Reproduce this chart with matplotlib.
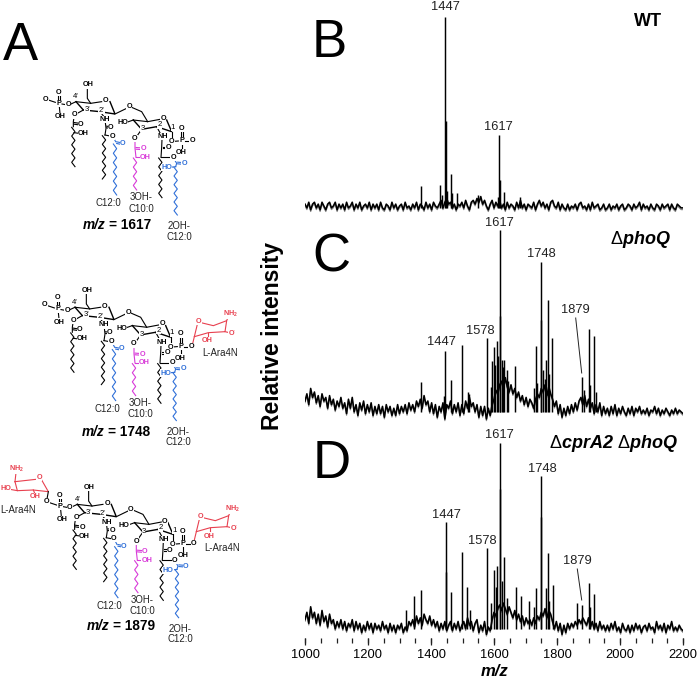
# -*- coding: utf-8 -*-
# MALDI spektri (B, C, D) i strukture lipida A (panel A)
import numpy as np
import matplotlib
matplotlib.use('Agg')
import matplotlib.pyplot as plt

plt.rcParams['font.family'] = ['Liberation Sans', 'DejaVu Sans']
plt.rcParams['mathtext.fontset'] = 'custom'
plt.rcParams['mathtext.rm'] = 'Liberation Sans'
plt.rcParams['mathtext.bf'] = 'Liberation Sans:bold'
plt.rcParams['mathtext.bfit'] = 'Liberation Sans:italic:bold'
plt.rcParams['mathtext.it'] = 'Liberation Sans:italic'
plt.rcParams['mathtext.default'] = 'regular'

# vrhovi spektara, m/z i relativni intenzitet [%]
peaks_b_mz = [1367, 1429, 1436, 1446, 1448, 1452, 1462, 1466, 1484, 1548, 1612, 1617, 1618, 1632, 1683]
peaks_b_int = [10.5, 11, 6, 100, 45, 8, 17, 7, 7, 6, 5, 37.5, 14, 7.5, 5]

peaks_c_mz = [1367, 1440, 1446, 1462, 1498, 1518, 1522, 1579, 1590, 1595, 1600, 1604, 1608, 1612,
              1618, 1620, 1624, 1628, 1633, 1640, 1646, 1668, 1728, 1732, 1738, 1748, 1750, 1756,
              1762, 1765, 1770, 1776, 1785, 1880, 1885, 1901, 1906, 1917, 1923]
peaks_c_int = [15.7, 8, 33, 16.7, 36, 10, 9, 40, 13, 27, 35, 25, 38.5, 30,
               100, 52, 28, 24, 28, 22, 16, 24.6, 12, 35.5, 15, 82, 50, 22,
               17, 28, 61, 20, 40, 18.5, 11, 45, 14, 41, 10]

peaks_d_mz = [1322, 1347, 1368, 1447, 1449, 1463, 1498, 1514, 1525, 1579, 1590, 1601, 1606, 1610,
              1618, 1620, 1625, 1633, 1640, 1669, 1685, 1711, 1728, 1732, 1748, 1750, 1765, 1771,
              1775, 1787, 1863, 1880, 1901, 1906, 1917]
peaks_d_int = [9, 17, 20, 57, 30, 19, 40.5, 22, 9, 43, 13, 31, 22, 33,
               100, 75, 25, 38, 16, 22, 17, 14, 11, 21, 82, 60, 21, 40,
               14, 23, 13, 12, 24, 11, 18]

# sum i osnovna linija, po jedna vrednost na svakih 6 m/z
noise_b = [1, -1, 2, -2, 1, 2, -1, 1, -2, 2, 0, -2, 1, 2, -1, 0, 2, -2, 1, -1,
           1, -2, 2, -1, 0, 2, -2, 1, -1, 2, -2, 0, 1, -1, 2, -2, 1, -1, 1, -2,
           2, -1, -2, 1, 0, -2, 2, -1, 1, -2, 0, 1, -2, 2, -1, 0, -2, 1, -1, 2,
           -2, 1, 0, -2, 2, -1, 1, -2, 2, 0, -1, 1, 3, -1, 2, 4, 1, 2, -1, 1,
           -2, 1, 0, 2, -1, 3, 0, -2, 2, 3, 1, 4, 2, 5, 1, 3, 0, -2, 1, 3,
           -1, 2, 0, 3, -1, 1, -2, 2, -1, 1, 0, -2, 2, -1, 3, -1, 1, -2, 1, 0,
           -1, 2, -2, 1, 3, 0, 2, -1, 1, -2, 2, 3, 0, -1, 2, -2, 1, -1, -2, 1,
           -2, 0, -1, 1, -2, 1, 2, -1, 0, -2, 1, -2, 2, -1, 0, 1, -2, -1, 1, -2,
           -1, 1, -2, 0, -1, 1, -2, 0, 1, -2, -1, 1, 0, -2, 1, -1, 0, 2, -2, 1,
           -1, 0, -2, 1, -1, -2, 1, 0, -2, 1, -1, 0, 1, -2, 1, -1, -2, 1, 0, -1, -1]

noise_c = [5, 9, 3, 12, 7, 10, 4, 8, 2, 9, 5, 7, 1, 8, 3, 6, 0, 5, 2, 7,
           1, 4, -2, 6, 1, 7, -1, 3, -3, 4, 0, 5, -2, 3, -1, 4, -3, 2, -2, 3,
           -2, 2, -4, 3, -1, 2, -3, 1, -3, 3, -2, 2, -1, 3, -2, 4, 0, 3, -1, 5,
           2, 6, 1, 8, 3, 5, -1, 4, -2, 3, -4, 2, -1, 4, -5, 3, 1, 5, -2, 3,
           -1, 4, -3, 3, -2, 5, 1, 7, 2, 4, -1, 3, -4, 2, -3, 2, -5, 1, -3, 3,
           6, 11, 9, 14, 16, 12, 18, 13, 10, 14, 9, 12, 7, 10, 5, 8, 3, 7, 2, 6,
           4, 1, 6, 9, 7, 12, 10, 14, 8, 13, 9, 6, 2, 5, -2, 3, -4, 1, -3, 2,
           -2, 3, -1, 4, 0, 5, 7, 3, 8, 2, 6, 1, 4, -2, 3, -1, 4, -3, 2, -2,
           1, -3, 2, -2, 3, -3, 1, -2, 2, -1, -3, 1, -2, 2, -3, 1, -1, 2, -2, 0,
           -2, 1, -3, 0, -1, 2, -2, 1, -3, 0, -2, 1, -1, -3, 0, -2, 1, -2, 0, -1, -2]

noise_d = [4, 8, 2, 11, 5, 8, 2, 7, 1, 9, 3, 6, 0, 7, 2, 4, -1, 3, 0, 4,
           -1, 3, -2, 2, 0, 4, -2, 3, -1, 2, -3, 1, -2, 3, -1, 2, -3, 2, -1, 1,
           -2, 3, -1, 1, -3, 2, -2, 1, -3, 1, -1, 2, -3, 0, -2, 3, 1, 4, 0, 6,
           2, 5, 1, 7, 4, 2, 6, 1, 4, 0, 3, -2, 2, -1, 3, -2, 1, 3, -2, 2,
           -1, 3, -2, 1, 3, -1, 5, 1, 3, -2, 2, 4, -3, 1, -2, 3, -4, 0, -2, 4,
           8, 6, 10, 12, 9, 13, 10, 7, 11, 8, 5, 9, 4, 7, 3, 6, 1, 5, 2, 4,
           1, 5, 2, 6, 4, 8, 6, 10, 5, 9, 7, 3, -1, 3, -2, 2, -4, 1, -3, 2,
           -1, 2, 0, 3, 1, 4, 2, 5, 3, 1, 5, 0, 3, -1, 2, -2, 3, -1, 1, -2,
           1, -2, 2, -1, 3, -2, 0, -3, 2, -1, -2, 1, -3, 1, -2, 2, -1, 1, -3, 0,
           1, -2, 2, -1, 0, -3, 3, -1, 1, -2, 2, -3, 1, -1, 3, -2, 0, -2, 1, -1, -2]

tick_labels = ['1000', '1200', '1400', '1600', '1800', '2000', '2200']

# oznake vrhova: tekst, x [px], y [px]
peak_labels = [('1447', 445, 7), ('1617', 498, 127),
               ('1617', 499, 223), ('1748', 541, 254), ('1578', 480, 331),
               ('1447', 441, 342), ('1879', 575, 310),
               ('1617', 499, 435), ('1748', 542, 469), ('1447', 446, 515),
               ('1578', 482, 541), ('1879', 577, 561)]

BLUE = '#2f6fd8'
MAGENTA = '#d83ad8'
RED = '#e8404f'

fig = plt.figure(figsize=(7, 6.78), dpi=100)
W, H = 700.0, 678.0
mz_grid = np.arange(1000, 2201, 6)


def spectrum_axes(base_px, top_px, y_top, y_bottom, noise, mz, inten):
    # osa je zadata u pikselima slike, a podaci u m/z i %
    ax = fig.add_axes([305 / W, 1 - y_bottom / H, 378 / W, (y_bottom - y_top) / H])
    scale = (base_px - top_px) / 100.0
    ax.set_xlim(1000, 2200)
    ax.set_ylim((base_px - y_bottom) / scale, (base_px - y_top) / scale)
    ax.patch.set_alpha(0)
    for s in ax.spines.values():
        s.set_visible(False)
    ax.set_yticks([])
    ax.tick_params(axis='x', which='both', bottom=False, labelbottom=False)
    # siva senka ispod linije kao na originalu
    ax.plot(mz_grid, np.array(noise) - 0.9, color='#8a8a8a', linewidth=0.9)
    ax.plot(mz_grid, noise, color='black', linewidth=1.15)
    ax.vlines(mz, -1, inten, color='black', linewidth=1.05)
    return ax


ax_b = spectrum_axes(206, 17, 8, 222, noise_b, peaks_b_mz, peaks_b_int)
ax_c = spectrum_axes(410, 230, 215, 425, noise_c, peaks_c_mz, peaks_c_int)
ax_d = spectrum_axes(627, 443, 430, 638, noise_d, peaks_d_mz, peaks_d_int)

ax_d.set_xticks(np.arange(1000, 2201, 200))
ax_d.set_xticklabels(tick_labels, fontsize=9.3)
ax_d.tick_params(axis='x', which='major', bottom=False, labelbottom=True, length=0, pad=8)

# sloj u pikselima za tekst i hemijske strukture
ov = fig.add_axes([0, 0, 1, 1])
ov.set_xlim(0, W)
ov.set_ylim(H, 0)
ov.axis('off')

# crtice ispod ose D, m/z preveden u piksele
minor_px = 305 + (np.arange(1000, 2201, 50) - 1000) * 378 / 1200.0
major_px = 305 + (np.arange(1000, 2201, 200) - 1000) * 378 / 1200.0
ov.vlines(minor_px, 638, 642.5, color='#222222', linewidth=0.9)
ov.vlines(major_px, 638, 645, color='#222222', linewidth=0.9)

for txt, x, y in peak_labels:
    ov.text(x, y, txt, fontsize=9.3, ha='center', va='center', color='#222222')
ov.plot([575.7, 581.7], [318, 373], color='#222222', linewidth=0.7)
ov.plot([577.3, 581.7], [569, 600], color='#222222', linewidth=0.7)

for letter, x, y in [('A', 3, 60), ('B', 312, 57), ('C', 312, 272), ('D', 313, 478)]:
    ov.text(x, y, letter, fontsize=38, ha='left', va='baseline', color='black')

ov.text(272, 336, 'Relative intensity', fontsize=16.5, fontweight='bold',
        rotation=90, ha='center', va='center')
ov.text(495, 672, 'm/z', fontsize=12, fontweight='bold', fontstyle='italic',
        ha='center', va='center')
ov.text(648, 21, 'WT', fontsize=13, fontweight='bold', ha='center', va='center')
ov.text(610, 239, r'$\Delta\mathbfit{phoQ}$', fontsize=13, ha='left', va='center')
ov.text(549, 444, r'$\Delta\mathbfit{cprA2}\ \Delta\mathbfit{phoQ}$', fontsize=13,
        ha='left', va='center')


def bond(pts, ox, oy, color='black', lw=0.8):
    # koordinate su u pikselima uvecanog isecka (3x)
    xs = [ox + p[0] / 3.0 for p in pts]
    ys = [oy + p[1] / 3.0 for p in pts]
    ov.plot(xs, ys, color=color, linewidth=lw, solid_joinstyle='miter', zorder=2)


def atom(x, y, s, ox, oy, color='black', size=5.2, weight='normal'):
    ov.text(ox + x / 3.0, oy + y / 3.0, s, fontsize=size, color=color, ha='center',
            va='center', fontweight=weight, zorder=3,
            bbox=dict(facecolor='white', edgecolor='none', pad=0.2))


def zigzag(x0, y0, y1, ox, oy, color='black', n=None):
    if n is None:
        n = int(abs(y1 - y0) / 13)
    pts = [(x0 + (5 if i % 2 else -5), y0 + (y1 - y0) * i / float(n)) for i in range(n + 1)]
    bond(pts, ox, oy, color=color)


def double_o(x0, y0, x1, y1, ox, oy, color='black'):
    dx, dy = 2.5, 2.5
    if abs(x1 - x0) > abs(y1 - y0):
        dx = 0
    else:
        dy = 0
    bond([(x0 - dx, y0 - dy), (x1 - dx, y1 - dy)], ox, oy, color=color)
    bond([(x0 + dx, y0 + dy), (x1 + dx, y1 + dy)], ox, oy, color=color)


def lipid(ox, oy, mass, mass_xy):
    # levi i desni secer
    bond([(228, 95), (272, 100), (305, 95)], ox, oy)
    bond([(330, 95), (345, 132), (300, 125), (250, 120), (228, 95)], ox, oy, lw=1.0)
    bond([(345, 132), (380, 115)], ox, oy)
    bond([(395, 112), (425, 125), (443, 155)], ox, oy)
    bond([(400, 150), (443, 155), (480, 148)], ox, oy)
    bond([(500, 150), (515, 185), (470, 170), (425, 178), (400, 150)], ox, oy, lw=1.0)
    bond([(262, 55), (262, 85), (272, 100)], ox, oy)
    bond([(400, 150), (380, 157)], ox, oy)
    atom(265, 45, 'OH', ox, oy, weight='bold')
    atom(318, 92, 'O', ox, oy, weight='bold')
    atom(388, 110, 'O', ox, oy, weight='bold')
    atom(490, 145, 'O', ox, oy, weight='bold')
    atom(368, 158, 'HO', ox, oy, weight='bold')
    for x, y, s in [(228, 80, "4'"), (262, 118, "3'"), (305, 122, "2'"), (428, 176, '3'),
                    (478, 165, '2'), (519, 172, '1')]:
        atom(x, y, s, ox, oy, size=5.6)
    # levi fosfat
    bond([(145, 90), (166, 97)], ox, oy)
    bond([(186, 102), (197, 104)], ox, oy)
    bond([(213, 102), (228, 95)], ox, oy)
    double_o(176, 77, 176, 90, ox, oy)
    bond([(178, 110), (180, 130)], ox, oy)
    atom(176, 100, 'P', ox, oy, weight='bold')
    atom(176, 67, 'O', ox, oy, weight='bold')
    atom(182, 140, 'OH', ox, oy, weight='bold')
    atom(205, 105, 'O', ox, oy, weight='bold')
    # desni fosfat
    bond([(515, 185), (515, 205)], ox, oy)
    bond([(523, 214), (535, 213)], ox, oy)
    bond([(555, 213), (568, 213)], ox, oy)
    double_o(545, 185, 545, 203, ox, oy)
    bond([(545, 222), (545, 238)], ox, oy)
    atom(515, 215, 'O', ox, oy, weight='bold')
    atom(545, 213, 'P', ox, oy, weight='bold')
    atom(545, 175, 'O', ox, oy, weight='bold')
    atom(577, 213, 'O', ox, oy, weight='bold')
    atom(545, 248, 'OH', ox, oy, weight='bold')
    # lanac 1
    bond([(250, 120), (232, 130)], ox, oy)
    bond([(222, 142), (220, 155), (220, 170)], ox, oy)
    double_o(222, 160, 235, 162, ox, oy)
    atom(225, 135, 'O', ox, oy, weight='bold')
    atom(243, 163, 'O', ox, oy, weight='bold')
    atom(250, 190, 'OH', ox, oy, weight='bold')
    bond([(222, 188), (237, 190)], ox, oy)
    zigzag(220, 172, 290, ox, oy)
    # lanac 2
    bond([(300, 125), (312, 140)], ox, oy)
    bond([(316, 157), (318, 175), (315, 195)], ox, oy)
    double_o(320, 171, 326, 172, ox, oy)
    atom(315, 148, 'NH', ox, oy, weight='bold')
    atom(333, 172, 'O', ox, oy, weight='bold')
    atom(337, 198, 'O', ox, oy, weight='bold')
    bond([(315, 195), (330, 198)], ox, oy)
    zigzag(312, 197, 327, ox, oy)
    bond([(341, 204), (347, 215)], ox, oy, color=BLUE)
    double_o(350, 218, 360, 220, ox, oy, color=BLUE)
    atom(368, 220, 'O', ox, oy, color=BLUE, weight='bold')
    zigzag(345, 222, 375, ox, oy, color=BLUE)
    # lanac 3
    bond([(425, 178), (411, 198)], ox, oy)
    atom(405, 205, 'O', ox, oy, weight='bold')
    bond([(405, 213), (405, 235), (408, 262)], ox, oy, color=MAGENTA)
    double_o(408, 235, 421, 236, ox, oy, color=MAGENTA)
    bond([(408, 262), (425, 262)], ox, oy, color=MAGENTA)
    atom(430, 236, 'O', ox, oy, color=MAGENTA, weight='bold')
    atom(437, 262, 'OH', ox, oy, color=MAGENTA, weight='bold')
    zigzag(405, 264, 360, ox, oy, color=MAGENTA)
    # lanac 4
    bond([(470, 170), (482, 192)], ox, oy)
    bond([(486, 208), (485, 232), (483, 262)], ox, oy)
    double_o(488, 232, 496, 232, ox, oy)
    bond([(483, 262), (512, 262)], ox, oy)
    atom(487, 200, 'NH', ox, oy, weight='bold')
    atom(505, 232, 'O', ox, oy, weight='bold')
    atom(520, 262, 'O', ox, oy, weight='bold')
    zigzag(481, 264, 383, ox, oy)
    bond([(523, 268), (530, 280), (527, 290)], ox, oy, color=BLUE)
    double_o(533, 279, 545, 280, ox, oy, color=BLUE)
    bond([(510, 292), (527, 290)], ox, oy, color=BLUE)
    atom(553, 280, 'O', ox, oy, color=BLUE, weight='bold')
    atom(500, 293, 'HO', ox, oy, color=BLUE, weight='bold')
    zigzag(527, 292, 435, ox, oy, color=BLUE)
    # nazivi
    for x, y, s in [(325, 400, 'C12:0'), (423, 382, '3OH-'), (423, 416, 'C10:0'),
                    (537, 468, '2OH-'), (537, 500, 'C12:0')]:
        ov.text(ox + x / 3.0, oy + y / 3.0, s, fontsize=6.9, ha='center', va='center',
                color='#222222')
    ov.text(mass_xy[0], mass_xy[1], 'm/z', fontsize=9.8, fontweight='bold', fontstyle='italic',
            ha='right', va='center')
    ov.text(mass_xy[0] + 3, mass_xy[1], '= ' + mass, fontsize=9.8, fontweight='bold',
            ha='left', va='center')


def ara4n_right(ox, oy):
    # L-Ara4N na desnom fosfatu, isecak 5
    bond([(577, 195), (583, 170), (592, 133)], ox, oy, color=RED)
    bond([(603, 128), (640, 137), (680, 122), (675, 155), (625, 158), (583, 170)], ox, oy, color=RED)
    bond([(680, 122), (685, 110)], ox, oy, color=RED)
    bond([(675, 155), (688, 158)], ox, oy, color=RED)
    bond([(623, 158), (623, 175)], ox, oy, color=RED)
    atom(597, 125, 'O', ox, oy, color=RED, weight='bold')
    atom(693, 102, r'$\mathbf{NH_2}$', ox, oy, color=RED)
    atom(697, 158, r'$\mathbf{O^{\cdot}}$', ox, oy, color=RED)
    atom(623, 183, 'OH', ox, oy, color=RED, weight='bold')
    ov.text(ox + 660 / 3.0, oy + 218 / 3.0, 'L-Ara4N', fontsize=6.9, ha='center', va='center',
            color='#222222')


def ara4n_left(ox, oy):
    # L-Ara4N na levom fosfatu, isecak 6
    bond([(45, 65), (108, 58)], ox, oy, color=RED)
    bond([(125, 60), (145, 95), (100, 90), (52, 92), (45, 65)], ox, oy, color=RED)
    bond([(45, 65), (48, 38)], ox, oy, color=RED)
    bond([(52, 92), (30, 88)], ox, oy, color=RED)
    bond([(100, 90), (105, 102)], ox, oy, color=RED)
    bond([(145, 95), (141, 117)], ox, oy)
    atom(118, 52, 'O', ox, oy, color=RED, weight='bold')
    atom(50, 27, r'$\mathbf{NH_2}$', ox, oy, color=RED)
    atom(17, 87, 'HO', ox, oy, color=RED, weight='bold')
    atom(107, 110, 'OH', ox, oy, color=RED, weight='bold')
    atom(140, 125, 'O', ox, oy, weight='bold')
    ov.text(ox + 55 / 3.0, oy + 150 / 3.0, 'L-Ara4N', fontsize=6.9, ha='center', va='center',
            color='#222222')


lipid(0, 70, '1617', (106, 225))
atom(137, 88, 'O', 0, 70, weight='bold')
lipid(-1, 275.6, '1748', (105, 431.5))
atom(137, 88, 'O', -1, 275.6, weight='bold')
ara4n_right(0, 280)
lipid(1.3, 472.7, '1879', (110, 626.5))
ara4n_right(2, 475)
ara4n_left(0, 460)

fig.savefig('out.png', dpi=100)
